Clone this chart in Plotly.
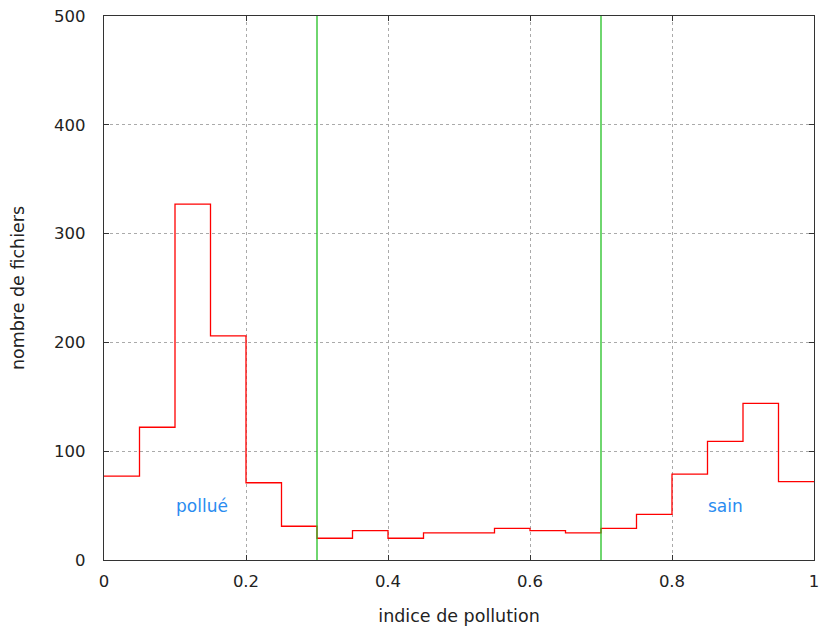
import plotly.graph_objects as go

bin_edges = [0.0, 0.05, 0.1, 0.15, 0.2, 0.25, 0.3, 0.35, 0.4, 0.45, 0.5,
             0.55, 0.6, 0.65, 0.7, 0.75, 0.8, 0.85, 0.9, 0.95, 1.0]
counts = [77, 122, 327, 206, 71, 31, 20, 27, 20, 25,
          25, 29, 27, 25, 29, 42, 79, 109, 144, 72]
thresholds = [0.3, 0.7]
labels = [("pollué", 0.138, 50), ("sain", 0.875, 50)]
x_ticks = [0, 0.2, 0.4, 0.6, 0.8, 1]
x_tick_text = ["0", "0.2", "0.4", "0.6", "0.8", "1"]
y_ticks = [0, 100, 200, 300, 400, 500]

font = "DejaVu Sans"
txt_color = "#222222"

fig = go.Figure()
fig.add_trace(go.Scatter(
    x=bin_edges, y=counts + [counts[-1]],
    mode="lines", line=dict(color="#ff0000", width=1.3, shape="hv"),
    showlegend=False, hoverinfo="skip", cliponaxis=False))

for t in thresholds:
    fig.add_shape(type="line", x0=t, x1=t, y0=0, y1=1, xref="x", yref="paper",
                  line=dict(color="#22c022", width=1.3))

for txt, xv, yv in labels:
    fig.add_annotation(x=xv, y=yv, text=txt, showarrow=False,
                       font=dict(family=font, size=17, color="#2a8cf0"))

axis_common = dict(
    showline=True, linecolor="#333333", linewidth=1.3, mirror="ticks",
    ticks="inside", ticklen=5, tickcolor="#333333",
    showgrid=True, gridcolor="#aaaaaa", griddash="dot", gridwidth=1,
    zeroline=False, automargin=False,
    tickfont=dict(family=font, size=16.5, color=txt_color),
)

fig.update_xaxes(range=[0, 1], tickvals=x_ticks, ticktext=x_tick_text,
                 ticklabelstandoff=6,
                 title=dict(text="indice de pollution", standoff=19,
                            font=dict(family=font, size=17.5, color=txt_color)),
                 **axis_common)
fig.update_yaxes(range=[0, 500], tickvals=y_ticks,
                 ticklabelstandoff=14,
                 title=dict(text="nombre de fichiers", standoff=24,
                            font=dict(family=font, size=17.5, color=txt_color)),
                 **axis_common)

fig.update_layout(
    width=821, height=633,
    margin=dict(l=104, r=7, t=16, b=73),
    plot_bgcolor="white", paper_bgcolor="white",
    font=dict(family=font),
)

fig.write_html("out.html", config={"displayModeBar": False},
               post_script="document.body.style.margin='0';")
